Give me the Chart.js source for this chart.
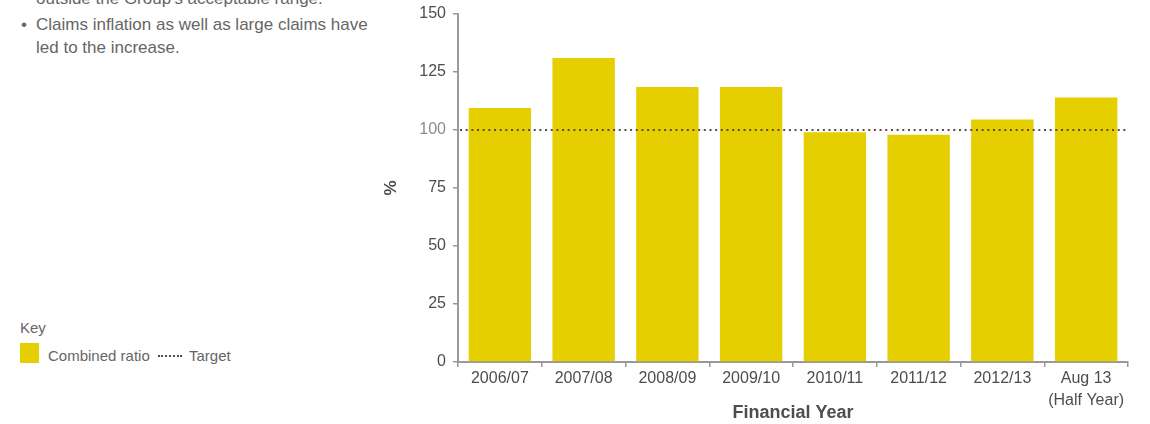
<!DOCTYPE html>
<html>
<head>
<meta charset="utf-8">
<script src="https://cdn.jsdelivr.net/npm/chart.js@4/dist/chart.umd.min.js"></script>
<style>
  body { margin: 0; background: #fff; font-family: "Liberation Sans", Arial, sans-serif; }
  #wrap { position: relative; width: 1150px; height: 424px; overflow: hidden; }
  #chart { position: absolute; left: 0; top: 0; }
  .note { position: absolute; left: 36px; color: #666; font-size: 17px; line-height: 23px; white-space: nowrap; }
  .bullet { position: absolute; left: 21px; top: 13px; color: #666; font-size: 17px; line-height: 23px; }
  .key { position: absolute; left: 20px; color: #666; font-size: 15px; white-space: nowrap; }
  .sw { position: absolute; left: 20px; top: 343px; width: 19px; height: 20px; background: #e6cf00; }
  .dot { position: absolute; left: 158px; top: 355px; width: 24px; border-top: 2px dotted #5b4a44; }
</style>
</head>
<body>
<div id="wrap">
  <div class="note" style="top:-13px;">outside the Group's acceptable range.</div>
  <div class="bullet">&bull;</div>
  <div class="note" style="top:13px;">Claims inflation as well as large claims have</div>
  <div class="note" style="top:36px;">led to the increase.</div>
  <div class="key" style="top:319px;">Key</div>
  <div class="sw"></div>
  <div class="key" style="top:347px; left:48px;">Combined ratio</div>
  <div class="dot"></div>
  <div class="key" style="top:347px; left:189px;">Target</div>
  <canvas id="chart" width="1150" height="424"></canvas>
</div>
<script>
const categories = ['2006/07', '2007/08', '2008/09', '2009/10', '2010/11', '2011/12', '2012/13', ['Aug 13', '(Half Year)']];
const combinedRatio = [109.5, 131, 118.5, 118.5, 99, 98, 104.5, 114];
const target = 100;
const yMin = 0, yMax = 150, yStep = 25;

// dotted target line across the plot
const targetLine = {
    id: 'targetLine',
    afterDatasetsDraw(chart) {
        const ctx = chart.ctx;
        const area = chart.chartArea;
        const y = chart.scales.y.getPixelForValue(target);
        ctx.save();
        ctx.strokeStyle = '#5b4a44';
        ctx.lineWidth = 2;
        ctx.setLineDash([2, 3.67]);
        ctx.beginPath();
        ctx.moveTo(area.left + 2, y);
        ctx.lineTo(area.right, y);
        ctx.stroke();
        ctx.restore();
    }
};

new Chart(document.getElementById('chart'), {
    type: 'bar',
    data: {
        labels: categories,
        datasets: [{
            label: 'Combined ratio',
            data: combinedRatio,
            backgroundColor: '#e6cf00',
            categoryPercentage: 1,
            barPercentage: 0.745
        }]
    },
    options: {
        responsive: false,
        animation: false,
        layout: { padding: { left: 370, top: 14, right: 22, bottom: 0 } },
        plugins: { legend: { display: false }, tooltip: { enabled: false } },
        scales: {
            x: {
                grid: { drawOnChartArea: false, tickLength: 5, color: '#999', lineWidth: 1.5 },
                border: { color: '#999', width: 2 },
                ticks: {
                    color: '#4d4d4d',
                    padding: 0,
                    maxRotation: 0,
                    autoSkip: false,
                    font: { family: 'Liberation Sans', size: 16, lineHeight: 1.4 }
                },
                title: {
                    display: true,
                    text: 'Financial Year',
                    color: '#4d4d4d',
                    padding: { top: 2, bottom: 0 },
                    font: { family: 'Liberation Sans', size: 18, weight: 'bold' }
                },
                afterFit(scale) { scale.height = 62; }
            },
            y: {
                min: yMin,
                max: yMax,
                grid: { drawOnChartArea: false, tickLength: 5, color: '#999', lineWidth: 1.5 },
                border: { color: '#999', width: 2 },
                ticks: {
                    stepSize: yStep,
                    padding: 7,
                    color: ctx => ctx.tick.value === target ? '#8c8c8c' : '#4d4d4d',
                    font: { family: 'Liberation Sans', size: 16, lineHeight: 0.8 }
                },
                title: {
                    display: true,
                    text: '%',
                    color: '#4d4d4d',
                    padding: { top: 11, bottom: 0 },
                    font: { family: 'Liberation Sans', size: 17, weight: 'bold' }
                },
                afterFit(scale) { scale.width = 88; }
            }
        }
    },
    plugins: [targetLine]
});
</script>
</body>
</html>
